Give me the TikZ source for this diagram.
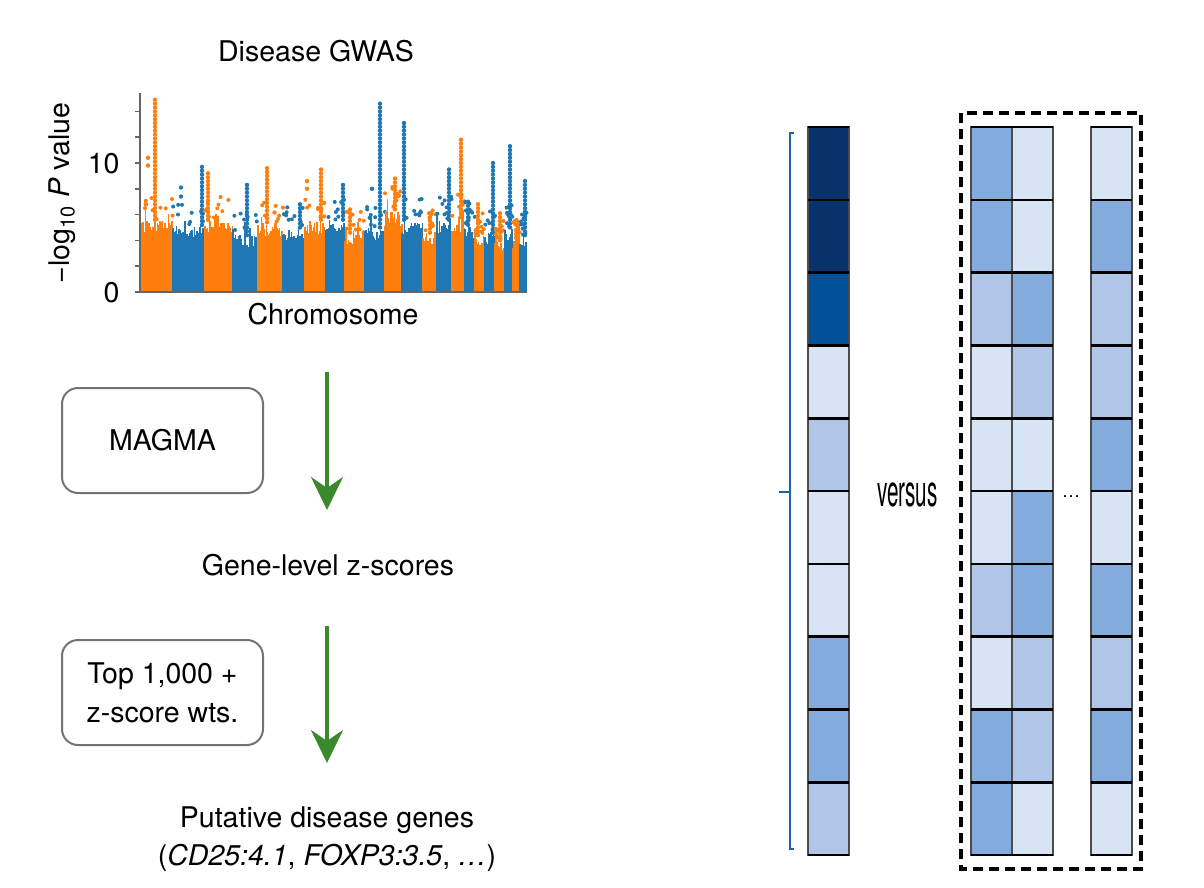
\documentclass[tikz,border=0pt]{standalone}
\usepackage{fontspec}
\setmainfont{TeX Gyre Heros}
\usetikzlibrary{arrows.meta}
\definecolor{gwasorange}{HTML}{FF7F0E}
\definecolor{gwasblue}{HTML}{1F77B4}
\definecolor{flowgreen}{HTML}{3A8A2C}
\definecolor{shade0}{HTML}{D7E4F3}
\definecolor{shade1}{HTML}{AFC6E8}
\definecolor{shade2}{HTML}{83ABDC}
\definecolor{shade3}{HTML}{00509A}
\definecolor{shade4}{HTML}{08326A}
\definecolor{bracketblue}{HTML}{1C63AC}
\begin{document}
\begin{tikzpicture}[x=1pt,y=-1pt,
    txt/.style={font=\fontsize{28.5}{36}\selectfont},
    stepbox/.style={draw=black!55,line width=2pt,rounded corners=16pt,
      minimum width=201pt,minimum height=105pt,align=center,
      font=\fontsize{28.5}{39}\selectfont},
    flow/.style={draw=flowgreen,line width=3.5pt,
      -{Stealth[length=33pt,width=32pt,inset=11pt]}},
    cell/.style={draw=black!70,line width=2pt,minimum width=41pt,
      minimum height=72.8pt,inner sep=0pt,outer sep=0pt},
    rowline/.style={black,line width=2.6pt}]
    \useasboundingbox (0,0) rectangle (1204,888);

    % manhattan plot
    \begin{scope}
      \pgfmathsetseed{4}
      \foreach \col/\xa/\xb/\base/\px/\ph in {
          gwasorange/142/173/5.6/155/14.9, gwasblue/173/205/5.2/202/9.7,
          gwasorange/205/233/5.6/208/9.3, gwasblue/233/258/4.4/247/8.3,
          gwasorange/258/283/5.4/267/9.7, gwasblue/283/305/5.0/300/6.9,
          gwasorange/305/326/5.6/321/9.7, gwasblue/326/345/5.6/343/8.3,
          gwasorange/345/365/4.6/350/6.6, gwasblue/365/385/5.0/380/14.7,
          gwasorange/385/402/6.4/395/8.8, gwasblue/402/423/5.6/404/13.1,
          gwasorange/423/437/4.6/430/6.2, gwasblue/437/452/5.6/449/9.5,
          gwasorange/452/465/5.8/461/11.8, gwasblue/465/475/5.2/468/7.0,
          gwasorange/475/485/4.4/478/7.0, gwasblue/485/495/4.6/493/10.2,
          gwasorange/495/505/4.0/500/6.2, gwasblue/505/513/5.0/510/11.5,
          gwasorange/513/520/4.2/516/4.8, gwasblue/520/527/4.4/525/8.8}{
        \pgfmathtruncatemacro\nn{(\xb-\xa)/1.2}
        \foreach \i in {0,...,\nn}{
          \pgfmathsetmacro\hh{\base*(0.8+0.2*rnd)+(rnd>0.88)*1.5*rnd}
          \draw[\col,line width=1.5pt] ({\xa+1.2*\i},292) -- ({\xa+1.2*\i},{292-12.9*\hh});
        }
        \foreach \k in {1,...,10}{
          \pgfmathsetmacro\dx{\xa+(\xb-\xa)*rnd}
          \pgfmathsetmacro\dy{\base+1.8*rnd}
          \fill[\col] (\dx,{292-12.9*\dy}) circle (2pt);
        }
        \pgfmathtruncatemacro\nk{(\ph-\base)/0.3}
        \foreach \k in {0,...,\nk}
          \fill[\col] (\px,{292-12.9*(\base+0.3*\k)}) circle (2.2pt);
      }
      \foreach \col/\dx/\dy in {gwasorange/148/10.4, gwasorange/148/9.8,
          gwasorange/146/6.8, gwasblue/181/8.1, gwasblue/181/7.4,
          gwasorange/307/8.6, gwasorange/307/8.0, gwasblue/372/8.0}
        \fill[\col] (\dx,{292-12.9*\dy}) circle (2.2pt);
      \draw[black!60,line width=1.5pt] (140,93) -- (140,292) -- (527,292);
      \foreach \t in {0,2,...,14}
        \draw[black!60,line width=1.5pt] (135,{292-12.9*\t}) -- (140,{292-12.9*\t});
    \end{scope}
    \node[txt,anchor=base] (title) at (316,62) {Disease GWAS};
    \node[txt,anchor=base] (xlab) at (333,324) {Chromosome};
    \node[txt,anchor=base,rotate=90] (ylab) at (69,193) {−log\textsubscript{10} \textit{P} value};
    \node[txt,anchor=base east] (tick0) at (123,302) {0};
    \node[txt,anchor=base east] (tick10) at (123,173) {10};

    % pipeline
    \node[stepbox] (magma) at (162.5,440.5) {MAGMA};
    \node[stepbox] (topk) at (162.5,692.5) {Top 1,000 +\\z-score wts.};
    \node[txt,anchor=base] (zscores) at (328,575) {Gene-level z-scores};
    \node[txt,anchor=base] (genes) at (327,827) {Putative disease genes};
    \node[txt,anchor=base] (genelist) at (327,865)
      {(\textit{CD25:4.1}, \textit{FOXP3:3.5}, \textit{…})};
    \coordinate (f1a) at (327,372);
    \coordinate (f1b) at (327,510);
    \coordinate (f2a) at (327,626);
    \coordinate (f2b) at (327,763);
    \draw[flow] (f1a) -- (f1b);
    \draw[flow] (f2a) -- (f2b);

    % gene set versus random sets
    \begin{scope}[every node/.style={cell}]
      \foreach \c [count=\i] in {shade4,shade4,shade3,shade0,shade1,shade0,shade0,shade2,shade2,shade1}
        \node[fill=\c] (g\i) at (828.5,{127+72.8*(\i-0.5)}) {};
      \foreach \c [count=\i] in {shade2,shade2,shade1,shade0,shade0,shade0,shade1,shade0,shade2,shade2}
        \node[fill=\c] (sA\i) at (991.5,{127+72.8*(\i-0.5)}) {};
      \foreach \c [count=\i] in {shade0,shade0,shade2,shade1,shade0,shade2,shade2,shade1,shade1,shade0}
        \node[fill=\c] (sB\i) at (1032.5,{127+72.8*(\i-0.5)}) {};
      \foreach \c [count=\i] in {shade0,shade2,shade1,shade1,shade2,shade0,shade2,shade1,shade2,shade0}
        \node[fill=\c] (sC\i) at (1111.5,{127+72.8*(\i-0.5)}) {};
    \end{scope}
    \foreach \i in {1,...,10}{
      \draw[rowline] (g\i.north west) -- (g\i.north east);
      \draw[rowline] (sA\i.north west) -- (sB\i.north east);
      \draw[rowline] (sC\i.north west) -- (sC\i.north east);
    }
    \draw[rowline] (g10.south west) -- (g10.south east);
    \draw[rowline] (sA10.south west) -- (sB10.south east);
    \draw[rowline] (sC10.south west) -- (sC10.south east);
    \draw[line width=3.2pt,dash pattern=on 10pt off 6pt] (961,113) rectangle (1141,869);
    \draw[bracketblue,line width=2pt] (794,133) -- (790,133) -- (790,849) -- (794,849);
    \draw[bracketblue,line width=2pt] (779,492) -- (790,492);
    \node[anchor=base,font=\fontsize{44}{50}\selectfont] (versus) at (907.5,506)
      {\scalebox{0.47}[1]{versus}};
    \node[anchor=base,font=\fontsize{18}{20}\selectfont] (dots) at (1071,497) {…};
\end{tikzpicture}
\end{document}
